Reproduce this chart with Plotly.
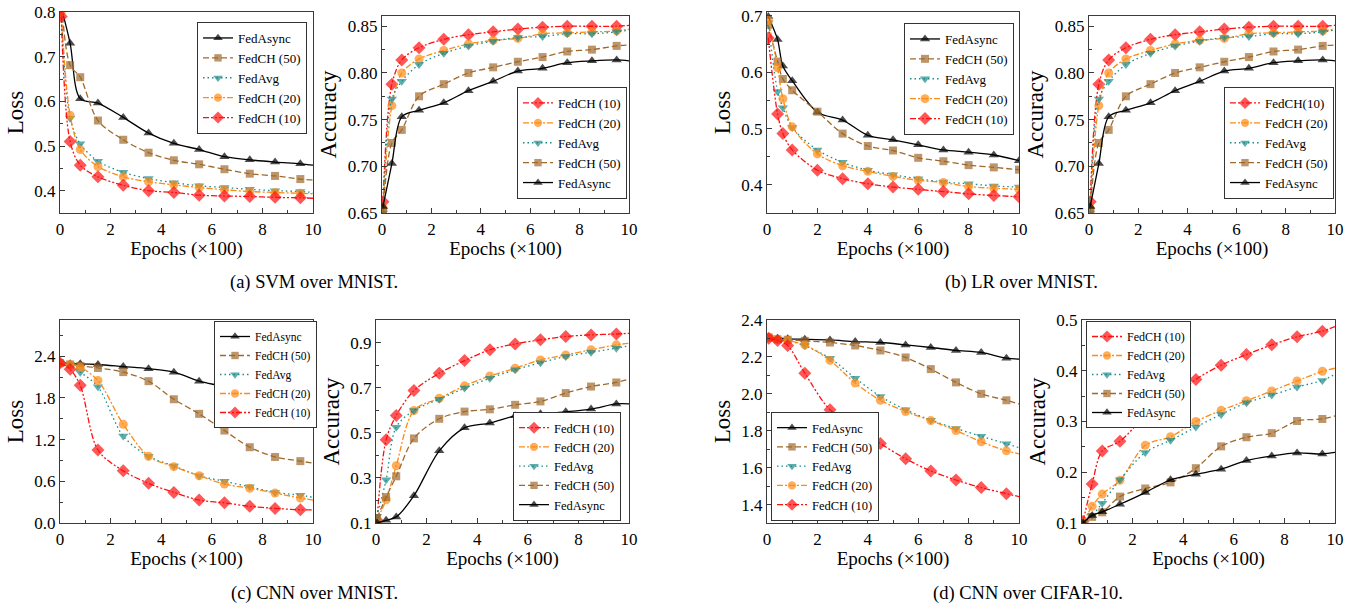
import plotly.graph_objects as go

# ---------------- data ----------------
SERIES_LOSS_ORDER = ["FedAsync", "FedCH (50)", "FedAvg", "FedCH (20)", "FedCH (10)"]
SERIES_ACC_ORDER = ["FedCH (10)", "FedCH (20)", "FedAvg", "FedCH (50)", "FedAsync"]

# (a) SVM over MNIST - loss
A_LOSS_X = [0.05, 0.4, 0.8, 1.5, 2.5, 3.5, 4.5, 5.5, 6.5, 7.5, 8.5, 9.5, 10]
A_LOSS_ASYNC = [0.81, 0.730, 0.606, 0.596, 0.564, 0.529, 0.506, 0.492, 0.476, 0.469, 0.464, 0.460, 0.457]
A_LOSS_CH50 = [0.83, 0.681, 0.654, 0.557, 0.514, 0.485, 0.468, 0.459, 0.448, 0.438, 0.433, 0.426, 0.424]
A_LOSS_AVG = [0.80, 0.562, 0.505, 0.466, 0.441, 0.427, 0.418, 0.411, 0.407, 0.403, 0.400, 0.398, 0.396]
A_LOSS_CH20 = [0.80, 0.569, 0.492, 0.454, 0.431, 0.420, 0.413, 0.407, 0.402, 0.398, 0.396, 0.394, 0.393]
A_LOSS_CH10 = [0.79, 0.510, 0.457, 0.431, 0.412, 0.400, 0.396, 0.390, 0.388, 0.387, 0.385, 0.384, 0.383]

# (a) SVM over MNIST - accuracy
A_ACC_X = [0.04, 0.4, 0.8, 1.5, 2.5, 3.5, 4.5, 5.5, 6.5, 7.5, 8.5, 9.5, 10]
A_ACC_CH10 = [0.662, 0.788, 0.814, 0.827, 0.836, 0.841, 0.844, 0.847, 0.849, 0.850, 0.850, 0.850, 0.851]
A_ACC_CH20 = [0.655, 0.765, 0.800, 0.815, 0.824, 0.831, 0.835, 0.837, 0.842, 0.843, 0.844, 0.845, 0.847]
A_ACC_AVG = [0.650, 0.772, 0.791, 0.809, 0.821, 0.829, 0.834, 0.838, 0.839, 0.842, 0.842, 0.844, 0.846]
A_ACC_CH50 = [0.652, 0.725, 0.739, 0.775, 0.788, 0.800, 0.806, 0.812, 0.817, 0.823, 0.825, 0.829, 0.830]
A_ACC_ASYNC = [0.657, 0.703, 0.753, 0.760, 0.768, 0.781, 0.791, 0.802, 0.805, 0.811, 0.813, 0.814, 0.813]

# (b) LR over MNIST - loss
B_LOSS_X = [0.05, 0.42, 0.63, 1, 2, 3, 4, 5, 6, 7, 8, 9, 10]
B_LOSS_ASYNC = [0.699, 0.658, 0.611, 0.585, 0.529, 0.515, 0.488, 0.480, 0.471, 0.462, 0.458, 0.453, 0.443]
B_LOSS_CH50 = [0.684, 0.619, 0.588, 0.568, 0.530, 0.491, 0.469, 0.461, 0.448, 0.442, 0.435, 0.431, 0.427]
B_LOSS_AVG = [0.688, 0.566, 0.537, 0.502, 0.462, 0.440, 0.426, 0.418, 0.411, 0.405, 0.402, 0.398, 0.396]
B_LOSS_CH20 = [0.692, 0.608, 0.553, 0.503, 0.455, 0.434, 0.424, 0.415, 0.408, 0.404, 0.397, 0.394, 0.392]
B_LOSS_CH10 = [0.661, 0.526, 0.491, 0.462, 0.426, 0.411, 0.402, 0.396, 0.392, 0.388, 0.384, 0.381, 0.379]

# (b) LR over MNIST - accuracy
B_ACC_X = [0.05, 0.4, 0.8, 1.5, 2.5, 3.5, 4.5, 5.5, 6.5, 7.5, 8.5, 9.5, 10]
B_ACC_CH10 = [0.662, 0.788, 0.814, 0.827, 0.836, 0.841, 0.844, 0.847, 0.849, 0.850, 0.850, 0.850, 0.851]
B_ACC_CH20 = [0.655, 0.765, 0.800, 0.815, 0.824, 0.831, 0.835, 0.837, 0.842, 0.843, 0.844, 0.845, 0.847]
B_ACC_AVG = [0.650, 0.772, 0.791, 0.809, 0.821, 0.829, 0.834, 0.838, 0.839, 0.842, 0.842, 0.844, 0.846]
B_ACC_CH50 = [0.652, 0.725, 0.739, 0.775, 0.788, 0.800, 0.806, 0.812, 0.817, 0.823, 0.825, 0.829, 0.830]
B_ACC_ASYNC = [0.657, 0.703, 0.753, 0.760, 0.768, 0.781, 0.791, 0.802, 0.805, 0.811, 0.813, 0.814, 0.813]

# (c) CNN over MNIST - loss
C_LOSS_X = [0.0, 0.4, 0.8, 1.5, 2.5, 3.5, 4.5, 5.5, 6.5, 7.5, 8.5, 9.5, 10]
C_LOSS_ASYNC = [2.305, 2.29, 2.29, 2.28, 2.25, 2.22, 2.17, 2.04, 1.96, 1.85, 1.65, 1.54, 1.45]
C_LOSS_CH50 = [2.30, 2.28, 2.26, 2.23, 2.17, 2.04, 1.78, 1.57, 1.33, 1.09, 0.95, 0.89, 0.86]
C_LOSS_AVG = [2.30, 2.28, 2.17, 1.96, 1.25, 0.96, 0.82, 0.68, 0.60, 0.52, 0.44, 0.40, 0.37]
C_LOSS_CH20 = [2.30, 2.28, 2.24, 2.05, 1.42, 0.96, 0.81, 0.68, 0.56, 0.50, 0.43, 0.36, 0.33]
C_LOSS_CH10 = [2.30, 2.21, 1.98, 1.05, 0.75, 0.57, 0.44, 0.33, 0.29, 0.24, 0.21, 0.19, 0.19]

# (c) CNN over MNIST - accuracy
C_ACC_X = [0.04, 0.4, 0.8, 1.5, 2.5, 3.5, 4.5, 5.5, 6.5, 7.5, 8.5, 9.5, 10]
C_ACC_CH10 = [0.112, 0.469, 0.577, 0.687, 0.764, 0.820, 0.868, 0.894, 0.912, 0.927, 0.934, 0.938, 0.941]
C_ACC_CH20 = [0.115, 0.203, 0.354, 0.599, 0.653, 0.708, 0.752, 0.786, 0.823, 0.845, 0.868, 0.890, 0.897]
C_ACC_AVG = [0.130, 0.292, 0.525, 0.599, 0.649, 0.698, 0.742, 0.779, 0.811, 0.838, 0.857, 0.875, 0.885]
C_ACC_CH50 = [0.122, 0.215, 0.307, 0.475, 0.562, 0.594, 0.604, 0.624, 0.639, 0.676, 0.705, 0.723, 0.738]
C_ACC_ASYNC = [0.100, 0.112, 0.127, 0.221, 0.420, 0.522, 0.543, 0.575, 0.584, 0.593, 0.605, 0.628, 0.628]

# (d) CNN over CIFAR-10 - loss
D_LOSS_X = [0.07, 0.42, 0.82, 1.5, 2.5, 3.5, 4.5, 5.5, 6.5, 7.5, 8.5, 9.5, 10]
D_LOSS_ASYNC = [2.305, 2.301, 2.298, 2.296, 2.292, 2.283, 2.278, 2.265, 2.251, 2.235, 2.224, 2.193, 2.188]
D_LOSS_CH50 = [2.305, 2.295, 2.293, 2.287, 2.278, 2.262, 2.235, 2.197, 2.134, 2.062, 2.000, 1.965, 1.945]
D_LOSS_AVG = [2.305, 2.296, 2.289, 2.260, 2.193, 2.085, 1.986, 1.914, 1.857, 1.812, 1.770, 1.729, 1.708]
D_LOSS_CH20 = [2.305, 2.296, 2.289, 2.265, 2.181, 2.058, 1.965, 1.904, 1.855, 1.801, 1.740, 1.691, 1.675]
D_LOSS_CH10 = [2.301, 2.289, 2.262, 2.112, 1.914, 1.830, 1.731, 1.648, 1.582, 1.533, 1.492, 1.459, 1.443]

# (d) CNN over CIFAR-10 - accuracy
D_ACC_X = [0.04, 0.4, 0.8, 1.5, 2.5, 3.5, 4.5, 5.5, 6.5, 7.5, 8.5, 9.5, 10]
D_ACC_CH10 = [0.103, 0.177, 0.242, 0.261, 0.310, 0.343, 0.383, 0.411, 0.432, 0.451, 0.467, 0.478, 0.487]
D_ACC_CH20 = [0.100, 0.133, 0.157, 0.184, 0.253, 0.270, 0.300, 0.322, 0.341, 0.360, 0.380, 0.399, 0.405]
D_ACC_AVG = [0.100, 0.115, 0.139, 0.185, 0.239, 0.263, 0.289, 0.314, 0.337, 0.352, 0.368, 0.381, 0.393]
D_ACC_CH50 = [0.100, 0.112, 0.121, 0.152, 0.168, 0.180, 0.208, 0.251, 0.269, 0.277, 0.301, 0.305, 0.311]
D_ACC_ASYNC = [0.100, 0.115, 0.122, 0.137, 0.160, 0.185, 0.196, 0.206, 0.223, 0.232, 0.238, 0.236, 0.239]

CAPTIONS = ["(a) SVM over MNIST.", "(b) LR over MNIST.", "(c) CNN over MNIST.", "(d) CNN over CIFAR-10."]
X_TITLE = "Epochs (\u00d7100)"

# ---------------- styles ----------------
FONT = "Times New Roman, Liberation Serif, serif"
STYLE = {
    "FedAsync":   dict(color="#000000", dash="solid", symbol="triangle-up", size=9),
    "FedCH (50)": dict(color="#A0692B", dash="6px,3px", symbol="square", size=8),
    "FedAvg":     dict(color="#1A8A8A", dash="1.5px,3px", symbol="triangle-down", size=9),
    "FedCH (20)": dict(color="#FF8A14", dash="6px,2px,2px,2px", symbol="circle", size=9),
    "FedCH (10)": dict(color="#FF1010", dash="6px,2px,2px,2px,2px,2px", symbol="diamond", size=10),
}

W, H = 1349, 610


def fx(a, b):
    return [a / W, b / W]


def fy(top, bottom):
    return [(H - bottom) / H, (H - top) / H]


panels = [
    dict(xd=fx(60, 313), yd=fy(12, 213), x=A_LOSS_X,
         ys={"FedAsync": A_LOSS_ASYNC, "FedCH (50)": A_LOSS_CH50, "FedAvg": A_LOSS_AVG,
             "FedCH (20)": A_LOSS_CH20, "FedCH (10)": A_LOSS_CH10},
         order=SERIES_LOSS_ORDER, yr=[0.35, 0.8], tick0=0.4, dtick=0.1, fmt=".1f", yt="Loss",
         leg=dict(x=197, y=22, yanchor="top", fs=13), hide_end=True, names={}),
    dict(xd=fx(382, 629), yd=fy(16, 213), x=A_ACC_X,
         ys={"FedCH (10)": A_ACC_CH10, "FedCH (20)": A_ACC_CH20, "FedAvg": A_ACC_AVG,
             "FedCH (50)": A_ACC_CH50, "FedAsync": A_ACC_ASYNC},
         order=SERIES_ACC_ORDER, yr=[0.65, 0.861], tick0=0.65, dtick=0.05, fmt=".2f", yt="Accuracy",
         leg=dict(x=517, y=199, yanchor="bottom", fs=13), hide_end=True, names={}),
    dict(xd=fx(767, 1019), yd=fy(12, 213), x=B_LOSS_X,
         ys={"FedAsync": B_LOSS_ASYNC, "FedCH (50)": B_LOSS_CH50, "FedAvg": B_LOSS_AVG,
             "FedCH (20)": B_LOSS_CH20, "FedCH (10)": B_LOSS_CH10},
         order=SERIES_LOSS_ORDER, yr=[0.35, 0.707], tick0=0.4, dtick=0.1, fmt=".1f", yt="Loss",
         leg=dict(x=904, y=23, yanchor="top", fs=13), hide_end=False, names={}),
    dict(xd=fx(1089, 1335), yd=fy(16, 213), x=B_ACC_X,
         ys={"FedCH (10)": B_ACC_CH10, "FedCH (20)": B_ACC_CH20, "FedAvg": B_ACC_AVG,
             "FedCH (50)": B_ACC_CH50, "FedAsync": B_ACC_ASYNC},
         order=SERIES_ACC_ORDER, yr=[0.65, 0.861], tick0=0.65, dtick=0.05, fmt=".2f", yt="Accuracy",
         leg=dict(x=1224, y=199, yanchor="bottom", fs=13), hide_end=True, names={"FedCH (10)": "FedCH(10)"}),
    dict(xd=fx(60, 313), yd=fy(320, 523), x=C_LOSS_X,
         ys={"FedAsync": C_LOSS_ASYNC, "FedCH (50)": C_LOSS_CH50, "FedAvg": C_LOSS_AVG,
             "FedCH (20)": C_LOSS_CH20, "FedCH (10)": C_LOSS_CH10},
         order=SERIES_LOSS_ORDER, yr=[0.0, 2.92], tick0=0.0, dtick=0.6, fmt=".1f", yt="Loss",
         leg=dict(x=214, y=321, yanchor="top", fs=11.5), hide_end=True, names={}),
    dict(xd=fx(376, 629), yd=fy(320, 523), x=C_ACC_X,
         ys={"FedCH (10)": C_ACC_CH10, "FedCH (20)": C_ACC_CH20, "FedAvg": C_ACC_AVG,
             "FedCH (50)": C_ACC_CH50, "FedAsync": C_ACC_ASYNC},
         order=SERIES_ACC_ORDER, yr=[0.1, 1.0], tick0=0.1, dtick=0.2, fmt=".1f", yt="Accuracy",
         leg=dict(x=513, y=521, yanchor="bottom", fs=12.5), hide_end=True, names={}),
    dict(xd=fx(767, 1019), yd=fy(320, 523), x=D_LOSS_X,
         ys={"FedAsync": D_LOSS_ASYNC, "FedCH (50)": D_LOSS_CH50, "FedAvg": D_LOSS_AVG,
             "FedCH (20)": D_LOSS_CH20, "FedCH (10)": D_LOSS_CH10},
         order=SERIES_LOSS_ORDER, yr=[1.3, 2.4], tick0=1.4, dtick=0.2, fmt=".1f", yt="Loss",
         leg=dict(x=771, y=521, yanchor="bottom", fs=12.5), hide_end=True, names={}),
    dict(xd=fx(1082, 1335), yd=fy(320, 523), x=D_ACC_X,
         ys={"FedCH (10)": D_ACC_CH10, "FedCH (20)": D_ACC_CH20, "FedAvg": D_ACC_AVG,
             "FedCH (50)": D_ACC_CH50, "FedAsync": D_ACC_ASYNC},
         order=SERIES_ACC_ORDER, yr=[0.1, 0.5], tick0=0.1, dtick=0.1, fmt=".1f", yt="Accuracy",
         leg=dict(x=1086, y=321, yanchor="top", fs=12), hide_end=True, names={}),
]

fig = go.Figure()
layout = dict(
    width=W, height=H,
    margin=dict(l=0, r=0, t=0, b=0),
    paper_bgcolor="white", plot_bgcolor="white",
    font=dict(family=FONT, color="#000000"),
    showlegend=True,
)

AX_COLOR = "#3a3a3a"

for i, p in enumerate(panels, start=1):
    xa = "x" if i == 1 else f"x{i}"
    ya = "y" if i == 1 else f"y{i}"
    legname = "legend" if i == 1 else f"legend{i}"
    n = len(p["x"])
    for s in p["order"]:
        st = STYLE[s]
        sizes = [st["size"]] * n
        if p["hide_end"]:
            sizes[-1] = 0
        fig.add_trace(go.Scatter(
            x=p["x"], y=p["ys"][s], xaxis=xa, yaxis=ya,
            name=p["names"].get(s, s), legend=legname,
            mode="lines+markers",
            line=dict(color=st["color"], dash=st["dash"], width=1.3, shape="spline", smoothing=0.9),
            marker=dict(symbol=st["symbol"], size=sizes, color=st["color"], line=dict(width=0)),
            cliponaxis=True,
        ))
    layout[f"xaxis{i}"] = dict(
        domain=p["xd"], anchor=ya, range=[0, 10], tick0=0, dtick=2,
        ticks="inside", ticklen=5, tickwidth=1, tickcolor=AX_COLOR,
        minor=dict(ticks="inside", ticklen=3, dtick=1, tick0=0, tickcolor=AX_COLOR, showgrid=False),
        showline=True, linecolor=AX_COLOR, linewidth=1.2, mirror=True,
        showgrid=False, zeroline=False, automargin=False, ticklabeloverflow="allow",
        tickfont=dict(family=FONT, size=17, color="#000"),
        title=dict(text=X_TITLE, font=dict(family=FONT, size=19, color="#000"), standoff=2),
    )
    layout[f"yaxis{i}"] = dict(
        domain=p["yd"], anchor=xa, range=p["yr"], tick0=p["tick0"], dtick=p["dtick"], tickformat=p["fmt"],
        ticks="inside", ticklen=5, tickwidth=1, tickcolor=AX_COLOR,
        minor=dict(ticks="inside", ticklen=3, dtick=p["dtick"] / 2, tick0=p["tick0"],
                   tickcolor=AX_COLOR, showgrid=False),
        showline=True, linecolor=AX_COLOR, linewidth=1.2, mirror=True,
        showgrid=False, zeroline=False, automargin=False, ticklabeloverflow="allow",
        tickfont=dict(family=FONT, size=17, color="#000"),
        title=dict(text=p["yt"], font=dict(family=FONT, size=23, color="#000"), standoff=4),
    )
    lg = p["leg"]
    layout[legname] = dict(
        x=lg["x"] / W, y=(H - lg["y"]) / H, xanchor="left", yanchor=lg["yanchor"],
        xref="paper", yref="paper",
        bgcolor="white", bordercolor="#333333", borderwidth=1,
        font=dict(family=FONT, size=lg["fs"], color="#000"),
        itemwidth=30, tracegroupgap=0, traceorder="normal",
    )

fig.update_layout(**layout)

cap_pos = [(314, 282), (1021, 282), (314, 593), (1028, 593)]
for text, (cx, cy) in zip(CAPTIONS, cap_pos):
    fig.add_annotation(x=cx / W, y=(H - cy) / H, xref="paper", yref="paper",
                       text=text, showarrow=False, xanchor="center", yanchor="middle",
                       font=dict(family=FONT, size=18.5, color="#000"))

fig.write_html("out.html", config={"displayModeBar": False},
               post_script="document.body.style.margin='0';")
